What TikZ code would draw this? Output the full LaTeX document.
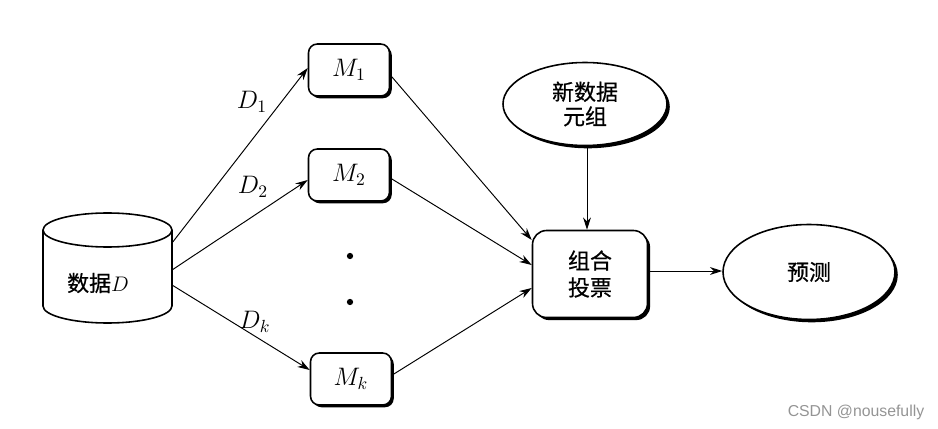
\documentclass[tikz,border=0pt]{standalone}
\usepackage{fontspec}
\newfontfamily\cjk[FakeBold=0.6]{Noto Sans CJK SC}
\newfontfamily\wm{Liberation Sans}
\usetikzlibrary{arrows.meta,shadows,shapes.geometric}
\tikzset{
  mbox/.style={draw, line width=0.9pt, rounded corners=5pt, fill=white,
    minimum width=1.62cm, minimum height=1.04cm, inner sep=0pt,
    drop shadow={shadow xshift=1.3pt, shadow yshift=-1.3pt, fill=black, opacity=1},
    font=\fontsize{14}{16}\selectfont},
  cbox/.style={draw, line width=0.9pt, rounded corners=8pt, fill=white,
    minimum width=2.3cm, minimum height=1.74cm, inner sep=0pt, align=center,
    drop shadow={shadow xshift=1.5pt, shadow yshift=-1.5pt, fill=black, opacity=1},
    font=\cjk\fontsize{12.5}{15.3}\selectfont},
  ell/.style={draw, ellipse, line width=0.9pt, fill=white, inner sep=0pt, align=center,
    drop shadow={shadow xshift=1.6pt, shadow yshift=-1.6pt, fill=black, opacity=1},
    font=\cjk\fontsize{12.5}{14}\selectfont},
  arr/.style={-{Stealth[length=7pt,width=4.5pt]}, line width=0.55pt},
  dlab/.style={font=\fontsize{14}{16}\selectfont, inner sep=0pt},
}
\begin{document}
\begin{tikzpicture}[x=0.02cm, y=-0.02cm]
\useasboundingbox (0,0) rectangle (938,429);
% cylinder
\draw[line width=0.9pt, fill=white] (43,230) -- (43,306) arc[start angle=180, end angle=360, x radius=1.29cm, y radius=0.34cm] -- (172,230);
\draw[line width=0.9pt] (107.5,230) ellipse [x radius=1.29cm, y radius=0.34cm];
\node[font=\fontsize{12.5}{14}\selectfont, inner sep=0pt] (data) at (98,283) {{\cjk 数据}$D$};
\coordinate (s1) at (172,243);
\coordinate (s2) at (172,270);
\coordinate (s3) at (172,285);
% models
\node[mbox] (m1) at (349,70) {$M_1$};
\node[mbox] (m2) at (349,175) {$M_2$};
\node[mbox] (mk) at (351,379) {$M_k$};
\fill (350,256) circle (1.8pt) node (dot1) {};
\fill (350,302) circle (1.8pt) node (dot2) {};
% combine
\node[cbox] (comb) at (590,274) {组合\\投票};
\node[ell, minimum width=3.28cm, minimum height=1.66cm] (new) at (585,104) {新数据\\元组};
\node[ell, minimum width=3.44cm, minimum height=1.9cm] (pred) at (809,272) {预测};
% arrows from data
\draw[arr] (s1) -- (m1.west |- 0,68);
\draw[arr] (s2) -- (m2.west |- 0,180);
\draw[arr] (s3) -- (mk.west |- 0,370);
\node[dlab] (d1) at (252,102) {$D_1$};
\node[dlab] (d2) at (253,187) {$D_2$};
\node[dlab] (dk) at (255,322) {$D_k$};
% arrows to combine
\draw[arr] (m1.east |- 0,75) -- (comb.west |- 0,240);
\draw[arr] (m2.east |- 0,178) -- (comb.west |- 0,265);
\draw[arr] (mk.east |- 0,375) -- (comb.west |- 0,288);
\draw[arr] (new.south -| 587,0) -- (comb.north -| 587,0);
\draw[arr] (comb.east |- 0,271) -- (pred.west |- 0,271);
% watermark
\node[font=\wm\fontsize{9}{10}\selectfont, text=black!42, inner sep=0pt] (wm) at (856,412) {CSDN @nousefully};
\end{tikzpicture}
\end{document}
